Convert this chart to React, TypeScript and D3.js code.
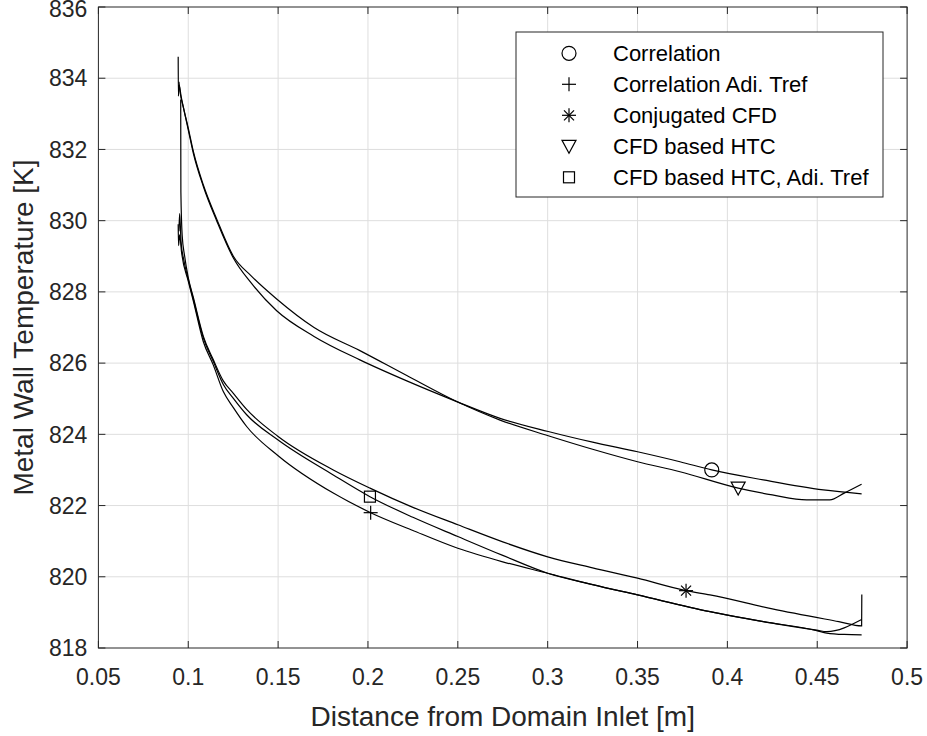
import React from "react";
import * as d3 from "d3";

// ---------- data ----------
const xTicks = [0.05, 0.1, 0.15, 0.2, 0.25, 0.3, 0.35, 0.4, 0.45, 0.5];
const xTickLabels = ["0.05", "0.1", "0.15", "0.2", "0.25", "0.3", "0.35", "0.4", "0.45", "0.5"];
const yTicks = [818, 820, 822, 824, 826, 828, 830, 832, 834, 836];
const yTickLabels = ["818", "820", "822", "824", "826", "828", "830", "832", "834", "836"];

// Correlation (circle)
const corrX = [0.0948, 0.0955, 0.0972, 0.1, 0.1028, 0.1084, 0.1158, 0.1251, 0.135, 0.1492, 0.17, 0.1955, 0.2216, 0.2494, 0.2735, 0.3003, 0.325, 0.35, 0.3736, 0.3913, 0.42, 0.4534, 0.4747];
const corrY = [833.9, 833.6, 833.2, 832.55, 831.9, 830.96, 830.0, 828.95, 828.25, 827.47, 826.75, 826.09, 825.5, 824.92, 824.45, 824.08, 823.78, 823.51, 823.23, 823.0, 822.72, 822.44, 822.33];
// Correlation Adi. Tref (plus)
const corrAdiX = [0.0944, 0.0946, 0.0952, 0.0963, 0.1, 0.1028, 0.1084, 0.1139, 0.1195, 0.1251, 0.1325, 0.15, 0.1807, 0.2015, 0.225, 0.25, 0.275, 0.3, 0.325, 0.35, 0.3903, 0.42, 0.4497, 0.4553, 0.465, 0.4747];
const corrAdiY = [829.9, 829.3, 829.6, 829.1, 828.3, 827.75, 826.6, 825.95, 825.2, 824.75, 824.22, 823.4, 822.35, 821.8, 821.3, 820.8, 820.42, 820.1, 819.78, 819.49, 819.02, 818.74, 818.49, 818.42, 818.38, 818.37];
// Conjugated CFD (asterisk)
const conjX = [0.0958, 0.0959, 0.0966, 0.098, 0.1, 0.1028, 0.1084, 0.1139, 0.1195, 0.1251, 0.1325, 0.15, 0.1807, 0.2011, 0.225, 0.25, 0.275, 0.3, 0.325, 0.35, 0.377, 0.3903, 0.425, 0.462, 0.4747, 0.4748];
const conjY = [833.4, 830.8, 829.6, 829.0, 828.4, 827.85, 826.75, 826.1, 825.5, 825.15, 824.7, 823.94, 823.0, 822.49, 821.95, 821.46, 820.98, 820.56, 820.25, 819.96, 819.61, 819.49, 819.1, 818.74, 818.62, 819.5];
// CFD based HTC (triangle)
const htcX = [0.0944, 0.0945, 0.095, 0.096, 0.0972, 0.1, 0.1028, 0.1084, 0.1158, 0.1251, 0.135, 0.1492, 0.17, 0.1955, 0.2216, 0.2494, 0.2735, 0.3003, 0.325, 0.35, 0.3736, 0.406, 0.425, 0.4441, 0.457, 0.465, 0.4747];
const htcY = [834.6, 833.5, 833.8, 833.5, 833.2, 832.6, 831.95, 831.0, 830.05, 829.0, 828.45, 827.8, 827.0, 826.35, 825.65, 824.92, 824.4, 823.96, 823.58, 823.23, 822.95, 822.49, 822.3, 822.16, 822.16, 822.35, 822.6];
// CFD based HTC, Adi. Tref (square)
const htcAdiX = [0.0948, 0.0952, 0.096, 0.0975, 0.1, 0.1028, 0.1084, 0.1139, 0.1195, 0.1251, 0.1325, 0.15, 0.1807, 0.2011, 0.225, 0.25, 0.275, 0.3, 0.325, 0.35, 0.3903, 0.42, 0.4497, 0.4553, 0.4747];
const htcAdiY = [829.7, 830.2, 829.4, 828.9, 828.35, 827.8, 826.7, 826.05, 825.4, 825.01, 824.55, 823.84, 822.86, 822.25, 821.67, 821.13, 820.6, 820.1, 819.78, 819.49, 819.02, 818.74, 818.5, 818.46, 818.8];

// single marker per series
const markerX = [0.3913, 0.2015, 0.377, 0.406, 0.2011];
const markerY = [823.0, 821.8, 819.61, 822.49, 822.25];

const seriesNames = ["Correlation", "Correlation Adi. Tref", "Conjugated CFD", "CFD based HTC", "CFD based HTC, Adi. Tref"];
const seriesMarkers = ["circle", "plus", "asterisk", "triangle", "square"];

// ---------- layout ----------
const W = 927, H = 736;
const L = 98.4, R = 907.1, T = 7, B = 648;
const FONT = "'Liberation Sans', Arial, Helvetica, sans-serif";
const AX = "#262626";

function Marker({ type, cx, cy }: { type: string; cx: number; cy: number }) {
  const s = { stroke: "#000", strokeWidth: 1.2, fill: "none" } as const;
  if (type === "circle") return <circle cx={cx} cy={cy} r={7} {...s} />;
  if (type === "plus")
    return (
      <g {...s}>
        <line x1={cx - 7} y1={cy} x2={cx + 7} y2={cy} />
        <line x1={cx} y1={cy - 7} x2={cx} y2={cy + 7} />
      </g>
    );
  if (type === "asterisk")
    return (
      <g {...s}>
        <line x1={cx - 7} y1={cy} x2={cx + 7} y2={cy} />
        <line x1={cx} y1={cy - 7} x2={cx} y2={cy + 7} />
        <line x1={cx - 5} y1={cy - 5} x2={cx + 5} y2={cy + 5} />
        <line x1={cx - 5} y1={cy + 5} x2={cx + 5} y2={cy - 5} />
      </g>
    );
  if (type === "triangle")
    return <path d={`M${cx - 7},${cy - 6}L${cx + 7},${cy - 6}L${cx},${cy + 7}Z`} {...s} />;
  return <rect x={cx - 5.5} y={cy - 5.5} width={11} height={11} {...s} />;
}

export default function App() {
  const x = d3.scaleLinear().domain([0.05, 0.5]).range([L, R]);
  const y = d3.scaleLinear().domain([818, 836]).range([B, T]);
  const line = d3
    .line<[number, number]>()
    .x((d) => x(d[0]))
    .y((d) => y(d[1]))
    .curve(d3.curveMonotoneX);

  const series: [number[], number[]][] = [
    [corrX, corrY],
    [corrAdiX, corrAdiY],
    [conjX, conjY],
    [htcX, htcY],
    [htcAdiX, htcAdiY],
  ];

  const tickLen = 7;
  const legRowY = (i: number) => 53.3 + i * 31;

  return (
    <svg
      width={W}
      height={H}
      style={{ position: "absolute", left: 0, top: 0, background: "#fff" }}
      fontFamily={FONT}
    >
      <rect x={0} y={0} width={W} height={H} fill="#fff" />
      {/* grid */}
      <g stroke="#dedede" strokeWidth={1}>
        {xTicks.slice(1, -1).map((t) => (
          <line key={"gx" + t} x1={x(t)} x2={x(t)} y1={T} y2={B} />
        ))}
        {yTicks.slice(1, -1).map((t) => (
          <line key={"gy" + t} x1={L} x2={R} y1={y(t)} y2={y(t)} />
        ))}
      </g>
      {/* curves */}
      <g fill="none" stroke="#000" strokeWidth={1.2}>
        {series.map(([xs, ys], i) => (
          <path key={"s" + i} d={line(xs.map((v, j) => [v, ys[j]]) as [number, number][]) || ""} />
        ))}
      </g>
      {markerX.map((mx, i) => (
        <Marker key={"m" + i} type={seriesMarkers[i]} cx={x(mx)} cy={y(markerY[i])} />
      ))}
      {/* axes box & ticks */}
      <g stroke={AX} strokeWidth={1}>
        <rect x={L} y={T} width={R - L} height={B - T} fill="none" />
        {xTicks.map((t) => (
          <g key={"tx" + t}>
            <line x1={x(t)} x2={x(t)} y1={B} y2={B - tickLen} />
            <line x1={x(t)} x2={x(t)} y1={T} y2={T + tickLen} />
          </g>
        ))}
        {yTicks.map((t) => (
          <g key={"ty" + t}>
            <line x1={L} x2={L + tickLen} y1={y(t)} y2={y(t)} />
            <line x1={R} x2={R - tickLen} y1={y(t)} y2={y(t)} />
          </g>
        ))}
      </g>
      {/* tick labels */}
      <g fill={AX} fontSize={23}>
        {xTicks.map((t, i) => (
          <text key={"lx" + t} x={x(t)} y={B + 37} textAnchor="middle">
            {xTickLabels[i]}
          </text>
        ))}
        {yTicks.map((t, i) => (
          <text key={"ly" + t} x={L - 11} y={Math.max(y(t) + 8.2, 17)} textAnchor="end">
            {yTickLabels[i]}
          </text>
        ))}
      </g>
      {/* axis labels */}
      <text x={(L + R) / 2} y={726} textAnchor="middle" fontSize={28} fill={AX}>
        Distance from Domain Inlet [m]
      </text>
      <text
        transform={`translate(33,${(T + B) / 2}) rotate(-90)`}
        textAnchor="middle"
        fontSize={28}
        fill={AX}
      >
        Metal Wall Temperature [K]
      </text>
      {/* legend */}
      <rect x={516} y={32} width={367} height={165} fill="#fff" stroke={AX} strokeWidth={1} />
      {seriesNames.map((n, i) => (
        <g key={"leg" + i}>
          <Marker type={seriesMarkers[i]} cx={569} cy={legRowY(i)} />
          <text x={613} y={legRowY(i) + 7.8} fontSize={22} fill="#000">
            {n}
          </text>
        </g>
      ))}
    </svg>
  );
}
